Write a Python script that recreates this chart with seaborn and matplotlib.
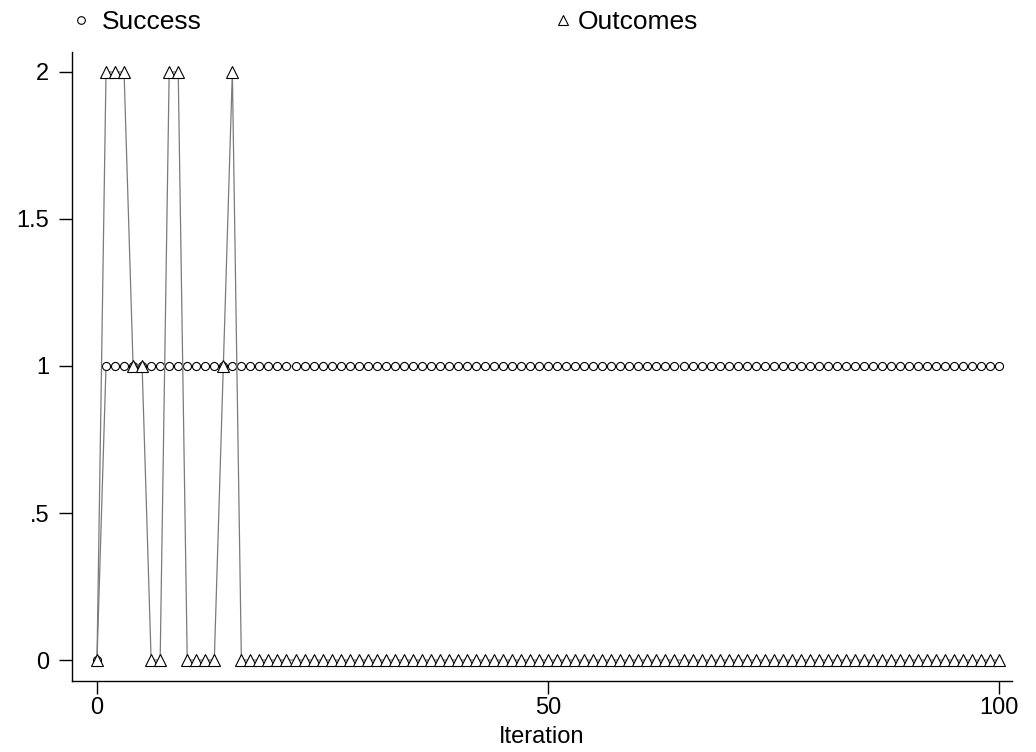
import numpy as np
import pandas as pd
import matplotlib
matplotlib.use("Agg")
import matplotlib.pyplot as plt
from matplotlib.lines import Line2D
import seaborn as sns

# Series recorded at each iteration
iterations = list(range(0, 101))
success = [0] + [1] * 100
outcomes = [0, 2, 2, 2, 1, 1, 0, 0, 2, 2, 0, 0, 0, 0, 1, 2] + [0] * 85

x_ticks = [0, 50, 100]
y_ticks = [0, 0.5, 1, 1.5, 2]
y_tick_labels = ["0", ".5", "1", "1.5", "2"]

df = pd.DataFrame({
    "Iteration": iterations * 2,
    "value": success + outcomes,
    "series": ["Success"] * len(success) + ["Outcomes"] * len(outcomes),
})

sns.set_theme(style="white")
plt.rcParams["font.family"] = ["Liberation Sans", "DejaVu Sans"]
plt.rcParams["text.color"] = "black"

fig = plt.figure(figsize=(10.36, 7.52), dpi=100)
ax = fig.add_axes([0.0695, 0.0944, 0.9073, 0.8365])

for name, mk, ms in [("Success", "o", 5.8), ("Outcomes", "^", 8)]:
    sub = df[df["series"] == name]
    sns.lineplot(data=sub, x="Iteration", y="value", ax=ax, color="#7a7a7a",
                 linewidth=0.9, marker=mk, markersize=ms,
                 markerfacecolor="white", markeredgecolor="black",
                 markeredgewidth=0.8, legend=False)

ax.set_xlim(-2.77, 101.4)
ax.set_ylim(-0.0714, 2.068)
ax.set_xticks(x_ticks)
ax.set_xticklabels([str(t) for t in x_ticks])
ax.set_yticks(y_ticks)
ax.set_yticklabels(y_tick_labels)

for side in ["top", "right"]:
    ax.spines[side].set_visible(False)
for side in ["left", "bottom"]:
    ax.spines[side].set_color("black")
    ax.spines[side].set_linewidth(1.0)

ax.tick_params(axis="both", which="major", direction="out", length=9.5,
               width=1.0, color="black", labelsize=17, labelcolor="black",
               left=True, bottom=True)
ax.tick_params(axis="x", pad=2)
ax.tick_params(axis="y", pad=7)
ax.set_xlabel("Iteration", fontsize=17, color="black", labelpad=5)
ax.set_ylabel("")

# Legend keys across the top: one small legend per series
legend_fs = 19
legend_items = [
    ("Success", "o", 5.5, 75.7 / 1036, 0.6),
    ("Outcomes", "^", 7.5, 557.7 / 1036, 0.37),
]
for label, mk, ms, x_left, pad in legend_items:
    handle = Line2D([], [], linestyle="none", marker=mk, markersize=ms,
                    markerfacecolor="white", markeredgecolor="black",
                    markeredgewidth=0.8, label=label)
    fig.legend(handles=[handle], loc="center left",
               bbox_to_anchor=(x_left, 1 - 22 / 752), frameon=False,
               fontsize=legend_fs, handlelength=0.4, handletextpad=pad,
               borderpad=0, borderaxespad=0, labelcolor="black")

fig.savefig("out.png", dpi=100, facecolor="white")
